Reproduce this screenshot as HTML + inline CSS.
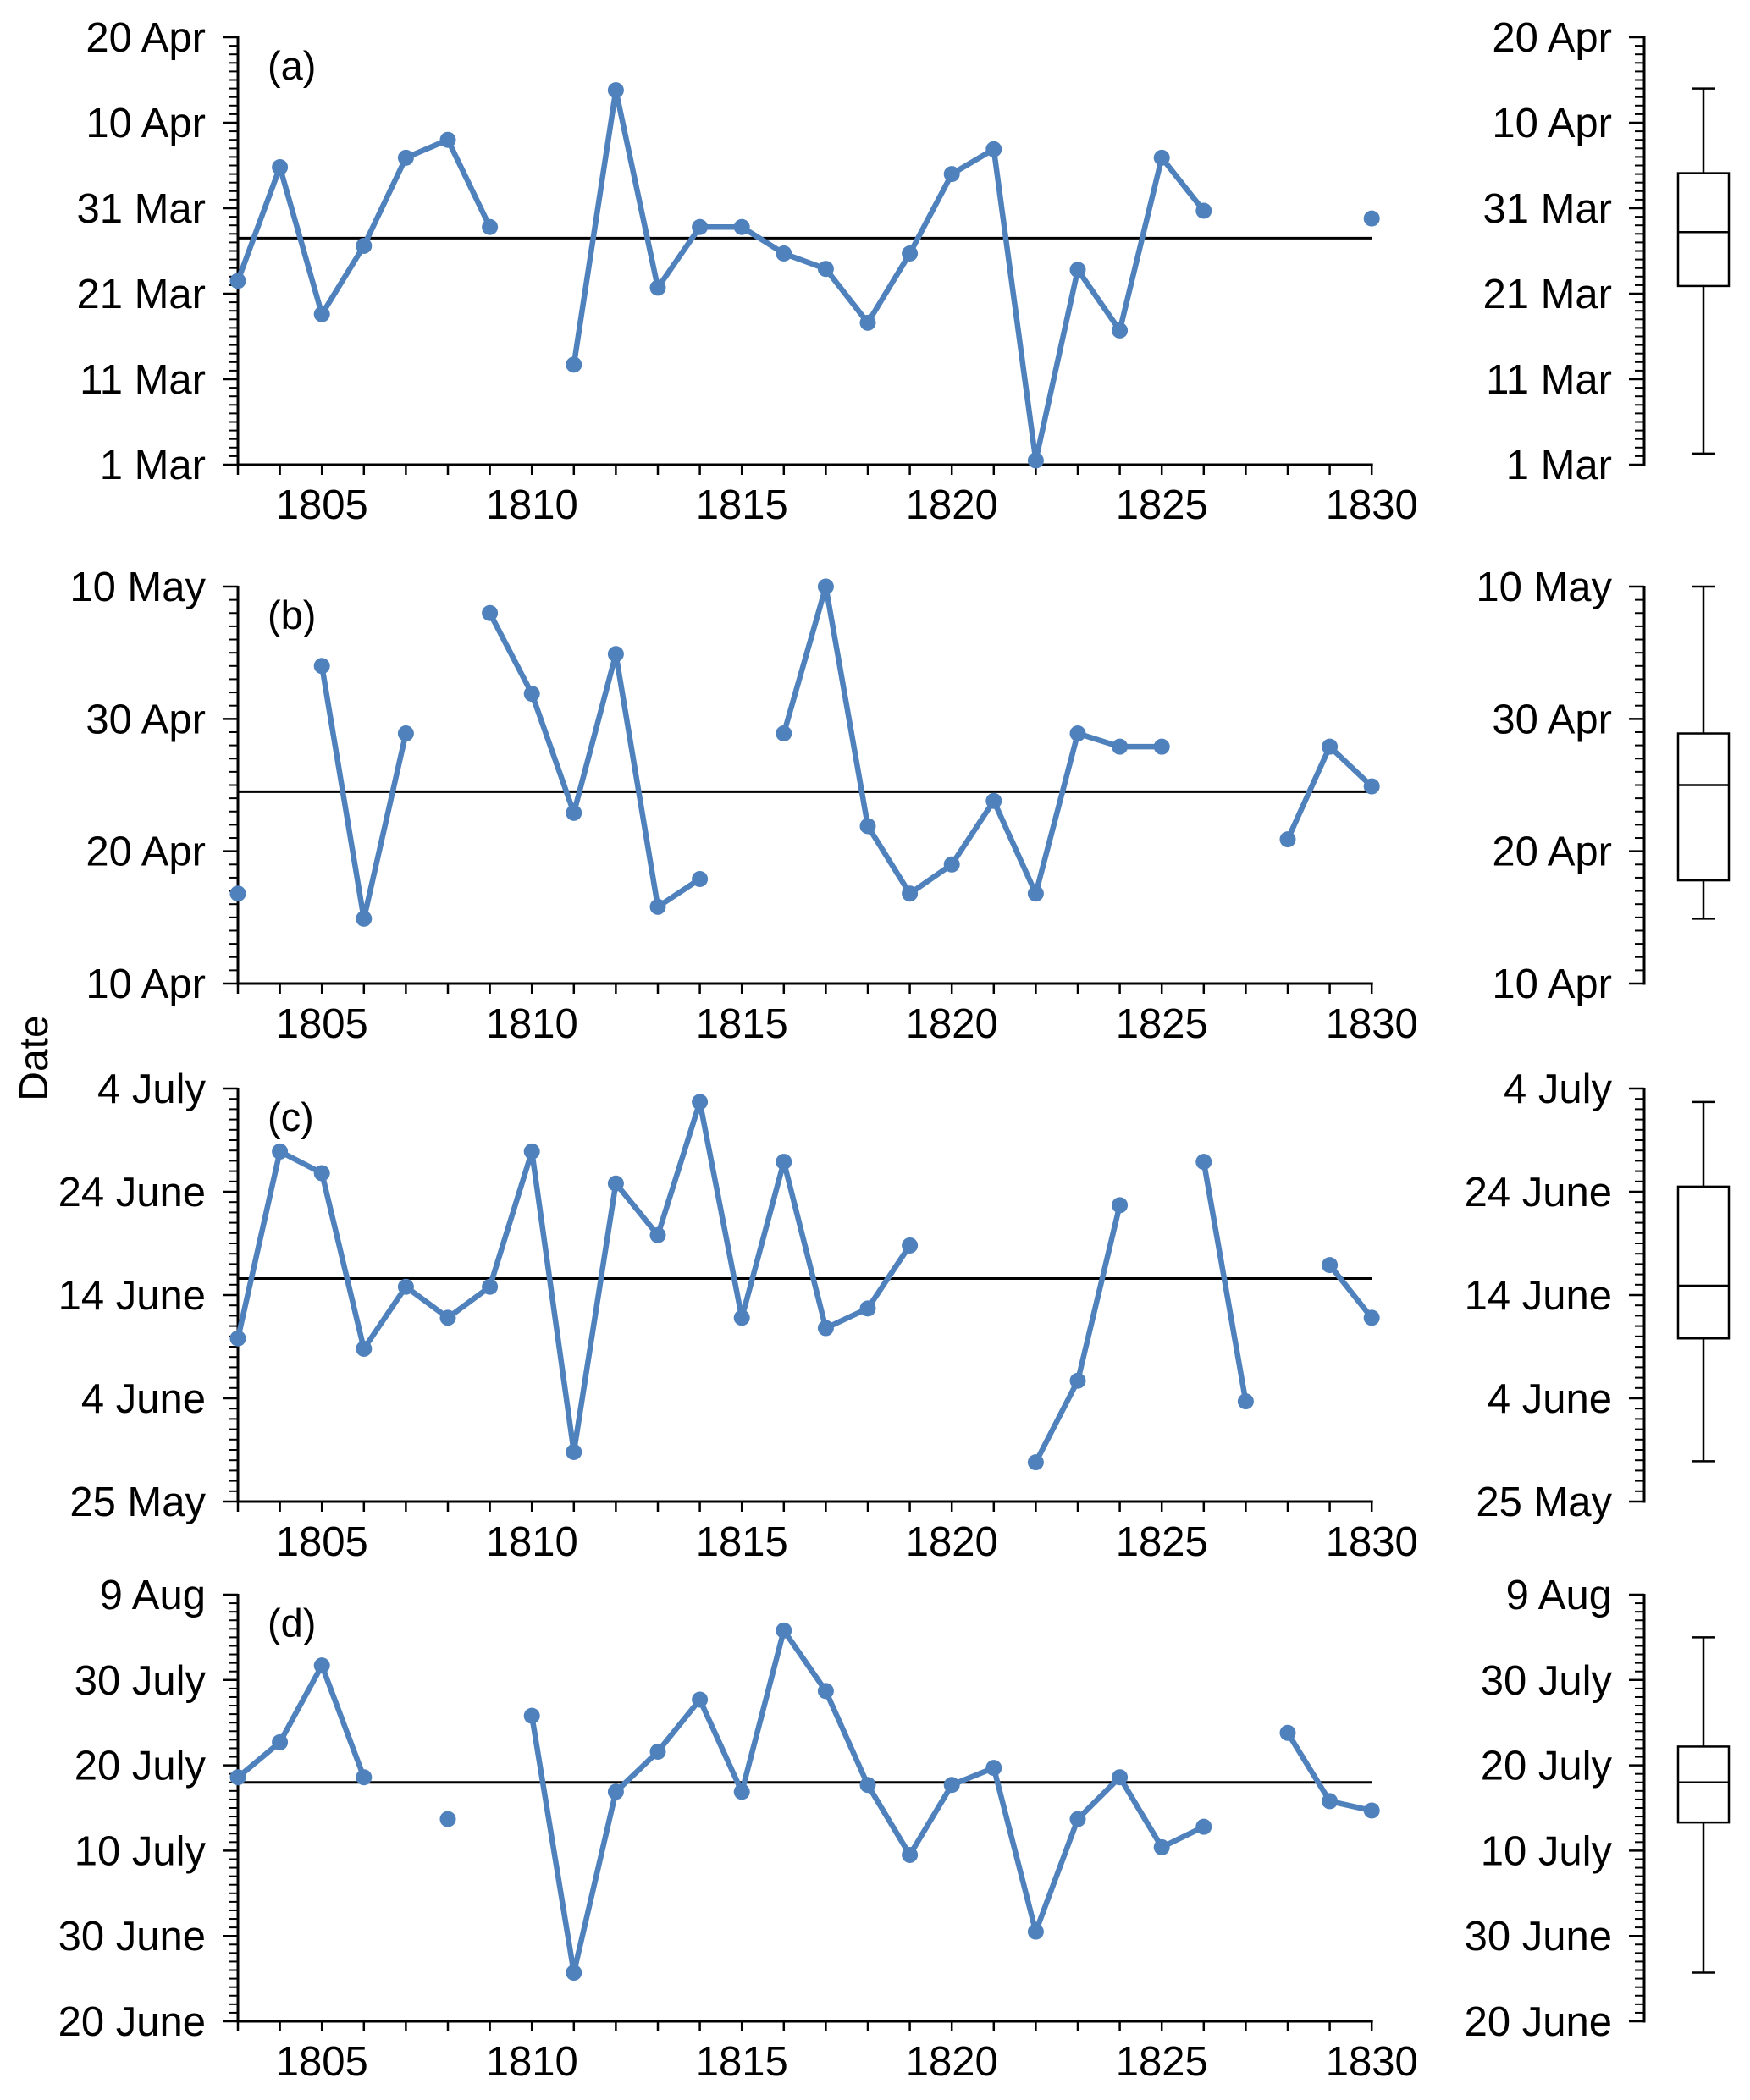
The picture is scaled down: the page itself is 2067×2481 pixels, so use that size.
<!DOCTYPE html>
<html><head><meta charset="utf-8"><style>
html,body{margin:0;padding:0;background:#fff;}
svg{display:block;font-family:"Liberation Sans",Arial,sans-serif;}
</style></head><body>
<svg id="s" width="2067" height="2481" viewBox="0 0 2067 2481" xmlns="http://www.w3.org/2000/svg">
<rect width="2067" height="2481" fill="#fff"/>
<text x="0" y="0" font-size="48" transform="translate(56,1250) rotate(-90)" text-anchor="middle">Date</text>
</svg>
<script>
var S=document.getElementById('s'),NS='http://www.w3.org/2000/svg';
function el(t,a,txt){var e=document.createElementNS(NS,t);for(var k in a)e.setAttribute(k,a[k]);if(txt!=null)e.textContent=txt;S.appendChild(e);return e;}
var X0=281,DX=49.6;
function xf(yr){return X0+(yr-1803)*DX;}
var panels=[
{top:44,bot:549,days:50,labels:["1 Mar","11 Mar","21 Mar","31 Mar","10 Apr","20 Apr"],step:10,letter:"(a)",mean:26.5,
 box:[1.3,20.9,27.2,34.1,44],
 segs:[[1803,[21.5,34.8,17.6,25.6,35.9,38,27.8]],[1811,[11.7,43.8,20.7,27.8,27.8,24.7,22.9,16.6,24.7,34,36.9,0.5,22.8,15.7,35.9,29.7]],[1830,[28.8]]]},
{top:693,bot:1162,days:30,labels:["10 Apr","20 Apr","30 Apr","10 May"],step:10,letter:"(b)",mean:14.5,
 box:[4.9,7.8,15,18.9,30],
 segs:[[1803,[6.8]],[1805,[24,4.9,18.9]],[1809,[28,21.9,12.9,24.9,5.8,7.9]],[1816,[18.9,30,11.9,6.8,9,13.8,6.8,18.9,17.9,17.9]],[1828,[10.9,17.9,14.9]]]},
{top:1286,bot:1774,days:40,labels:["25 May","4 June","14 June","24 June","4 July"],step:10,letter:"(c)",mean:21.6,
 box:[3.9,15.8,20.9,30.5,38.7],
 segs:[[1803,[15.8,33.9,31.8,14.8,20.8,17.8,20.8,33.9,4.8,30.8,25.8,38.7,17.8,32.9,16.8,18.7,24.8]],[1822,[3.8,11.7,28.7]],[1826,[32.9,9.7]],[1829,[22.9,17.8]]]},
{top:1884,bot:2388,days:50,labels:["20 June","30 June","10 July","20 July","30 July","9 Aug"],step:10,letter:"(d)",mean:28.0,
 box:[5.7,23.3,28,32.2,45],
 segs:[[1803,[28.6,32.7,41.7,28.6]],[1808,[23.7]],[1810,[35.8,5.7,26.9,31.6,37.7,26.9,45.8,38.7,27.7,19.5,27.7,29.7,10.5,23.7,28.6,20.4,22.8]],[1828,[33.8,25.8,24.7]]]}
];
var BLUE="#4f81bd";
panels.forEach(function(p){
 var k=(p.bot-p.top)/p.days;function yf(d){return p.bot-d*k;}
 [X0,1942].forEach(function(ax){
  el('line',{x1:ax,y1:p.top-1,x2:ax,y2:p.bot+1.5,stroke:'#000','stroke-width':3});
  for(var d=0;d<=p.days;d++){var maj=d%p.step==0;
   el('line',{x1:ax-(maj?18:11),y1:yf(d),x2:ax,y2:yf(d),stroke:'#000','stroke-width':maj?2.5:2});}
  p.labels.forEach(function(l,i){el('text',{x:ax-38,y:yf(i*p.step)+17,'font-size':49,'text-anchor':'end'},l);});
 });
 el('line',{x1:X0,y1:p.bot,x2:xf(1830)+1.5,y2:p.bot,stroke:'#000','stroke-width':3});
 for(var yr=1803;yr<=1830;yr++){el('line',{x1:xf(yr),y1:p.bot,x2:xf(yr),y2:p.bot+12,stroke:'#000','stroke-width':2.5});}
 for(var yr=1805;yr<=1830;yr+=5){el('text',{x:xf(yr),y:p.bot+64,'font-size':49,'text-anchor':'middle'},String(yr));}
 el('text',{x:316,y:p.top+50,'font-size':47},p.letter);
 el('line',{x1:X0,y1:yf(p.mean),x2:xf(1830),y2:yf(p.mean),stroke:'#000','stroke-width':3});
 p.segs.forEach(function(s){
  var pts=s[1].map(function(v,i){return xf(s[0]+i)+','+yf(v);}).join(' ');
  if(s[1].length>1)el('polyline',{points:pts,fill:'none',stroke:BLUE,'stroke-width':6.5,'stroke-linejoin':'round'});
  s[1].forEach(function(v,i){el('circle',{cx:xf(s[0]+i),cy:yf(v),r:9.5,fill:BLUE});});
 });
 var b=p.box,cx=2012;
 el('line',{x1:cx,y1:yf(b[0]),x2:cx,y2:yf(b[4]),stroke:'#000','stroke-width':2.5});
 el('line',{x1:1998,y1:yf(b[0]),x2:2026,y2:yf(b[0]),stroke:'#000','stroke-width':2.5});
 el('line',{x1:1998,y1:yf(b[4]),x2:2026,y2:yf(b[4]),stroke:'#000','stroke-width':2.5});
 el('rect',{x:1982,y:yf(b[3]),width:60,height:yf(b[1])-yf(b[3]),fill:'#fff',stroke:'#000','stroke-width':2.5});
 el('line',{x1:1982,y1:yf(b[2]),x2:2042,y2:yf(b[2]),stroke:'#000','stroke-width':2.5});
});
</script>
</body></html>
